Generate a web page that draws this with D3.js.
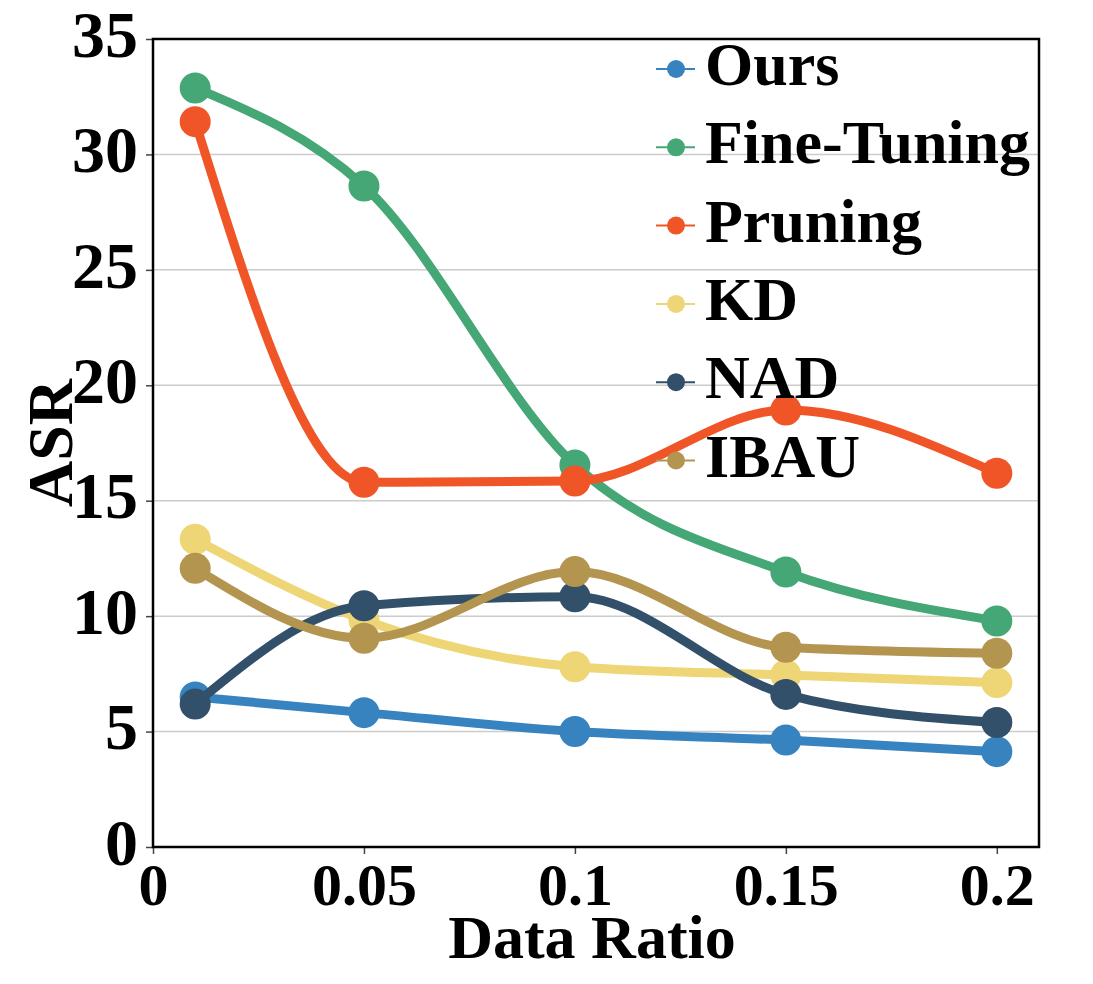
<!DOCTYPE html>
<html>
<head>
<meta charset="utf-8">
<script src="https://cdn.jsdelivr.net/npm/d3@7"></script>
<style>
  body { margin: 0; background: #fff; }
  text { font-family: "Liberation Serif", "Times New Roman", serif; font-weight: bold; fill: #000; }
</style>
</head>
<body>
<div id="chart"></div>
<script>
// data
const ratios = [0.01, 0.05, 0.1, 0.15, 0.2]
const seriesNames = ['Ours', 'Fine-Tuning', 'Pruning', 'KD', 'NAD', 'IBAU']
const oursAsr = [6.5, 5.82, 5.0, 4.63, 4.13]
const fineTuningAsr = [32.88, 28.63, 16.55, 11.91, 9.79]
const pruningAsr = [31.42, 15.8, 15.85, 18.93, 16.19]
const kdAsr = [13.33, 9.83, 7.81, 7.45, 7.12]
const nadAsr = [6.19, 10.45, 10.84, 6.61, 5.39]
const ibauAsr = [12.07, 9.04, 11.93, 8.65, 8.39]
const seriesColors = ['#3783c0', '#45a775', '#f05527', '#eed677', '#32506a', '#b3954f']
const yTicks = [0, 5, 10, 15, 20, 25, 30, 35]
const xTicks = [0, 0.05, 0.1, 0.15, 0.2]

const allValues = [oursAsr, fineTuningAsr, pruningAsr, kdAsr, nadAsr, ibauAsr]

const width = 1093, height = 984
const margin = { top: 39, right: 54, bottom: 137, left: 153 }

const svg = d3.select('#chart').append('svg')
              .attr('width', width)
              .attr('height', height)

const x = d3.scaleLinear().domain([0, 0.21]).range([margin.left, width - margin.right])
const y = d3.scaleLinear().domain([0, 35]).range([height - margin.bottom, margin.top])

// 网格线
svg.append('g')
   .selectAll('line')
   .data(yTicks.filter(d => d > 0 && d < 35))
   .join('line')
   .attr('x1', margin.left)
   .attr('x2', width - margin.right)
   .attr('y1', d => y(d))
   .attr('y2', d => y(d))
   .attr('stroke', '#cccccc')
   .attr('stroke-width', 1.5)

// y axis
const yAxis = svg.append('g')
                 .attr('transform', `translate(${margin.left},0)`)
                 .call(d3.axisLeft(y).tickValues(yTicks).tickSize(7).tickPadding(8).tickFormat(d3.format('d')))
yAxis.select('.domain').remove()
yAxis.selectAll('.tick line').attr('stroke', '#444').attr('stroke-width', 1.5)
yAxis.selectAll('.tick text').attr('font-size', 66).attr('dy', '0.26em')

// x axis
const xAxis = svg.append('g')
                 .attr('transform', `translate(0,${height - margin.bottom})`)
                 .call(d3.axisBottom(x).tickValues(xTicks).tickSize(7).tickPadding(9).tickFormat(d => d === 0 ? '0' : String(d)))
xAxis.select('.domain').remove()
xAxis.selectAll('.tick line').attr('stroke', '#444').attr('stroke-width', 1.5)
xAxis.selectAll('.tick text').attr('font-size', 60).attr('dy', '0.7em')

// lines + markers
const line = d3.line()
               .x((d, i) => x(ratios[i]))
               .y(d => y(d))
               .curve(d3.curveMonotoneX)

const seriesGroup = svg.selectAll('.series')
                       .data(allValues)
                       .join('g')
                       .attr('class', 'series')

seriesGroup.append('path')
           .attr('d', d => line(d))
           .attr('fill', 'none')
           .attr('stroke', (d, i) => seriesColors[i])
           .attr('stroke-width', 9)

seriesGroup.each(function (vals, si) {
    d3.select(this).selectAll('circle')
      .data(vals)
      .join('circle')
      .attr('cx', (d, i) => x(ratios[i]))
      .attr('cy', d => y(d))
      .attr('r', 15.5)
      .attr('fill', seriesColors[si])
})

// frame
svg.append('rect')
   .attr('x', margin.left)
   .attr('y', margin.top)
   .attr('width', width - margin.left - margin.right)
   .attr('height', height - margin.top - margin.bottom)
   .attr('fill', 'none')
   .attr('stroke', '#000')
   .attr('stroke-width', 2.5)

// axis titles
svg.append('text')
   .attr('x', (margin.left + width - margin.right) / 2 - 4)
   .attr('y', 958)
   .attr('text-anchor', 'middle')
   .attr('font-size', 62)
   .text('Data Ratio')

svg.append('text')
   .attr('transform', `translate(72,${(margin.top + height - margin.bottom) / 2}) rotate(-90)`)
   .attr('text-anchor', 'middle')
   .attr('font-size', 64)
   .text('ASR')

// legend
const legend = svg.append('g')
                  .selectAll('g')
                  .data(seriesNames)
                  .join('g')
                  .attr('transform', (d, i) => `translate(676,${69 + i * 78.3})`)

legend.append('line')
      .attr('x1', -20).attr('x2', 19)
      .attr('stroke', (d, i) => seriesColors[i])
      .attr('stroke-width', 2)
legend.append('circle')
      .attr('r', 9)
      .attr('fill', (d, i) => seriesColors[i])
legend.append('text')
      .attr('x', 29)
      .attr('y', 16)
      .attr('font-size', 62)
      .text(d => d)
</script>
</body>
</html>
